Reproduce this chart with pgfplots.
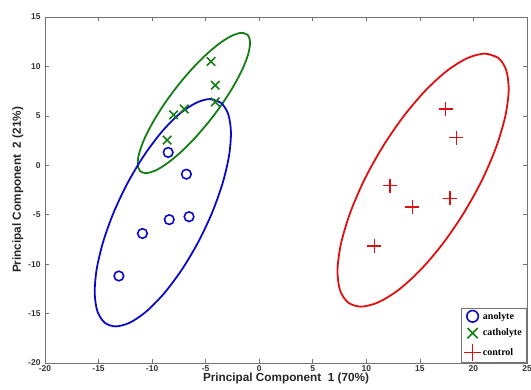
\documentclass[border=0pt]{standalone}
\usepackage{pgfplots}
\pgfplotsset{compat=1.18}
\usepackage{fontspec}
\setmainfont{Liberation Sans}
\newfontfamily\serifbold{Liberation Serif}
\definecolor{cblue}{RGB}{10,10,200}
\definecolor{cgreen}{RGB}{20,125,20}
\definecolor{cred}{RGB}{225,15,15}
\begin{document}
\begin{tikzpicture}
\begin{axis}[
  scale only axis, width=482bp, height=346bp,
  xmin=-20, xmax=25, ymin=-20, ymax=15,
  xtick={-20,-15,...,25}, ytick={-20,-15,...,15},
  tick align=inside, major tick length=4bp,
  axis line style={black!55, line width=0.8pt},
  every tick/.style={black!55, line width=0.6pt},
  /pgf/number format/assume math mode=true,
  tick label style={font=\fontsize{8.5}{9}\selectfont\bfseries, text=black!80},
  xticklabel style={yshift=1bp},
  yticklabel style={xshift=-1bp},
  xlabel={Principal Component\ \ 1 (70\%)},
  ylabel={Principal Component\ \ 2 (21\%)},
  label style={font=\fontsize{11.8}{13}\selectfont\bfseries, text=black!85},
  xlabel style={yshift=5bp},
  ylabel style={yshift=-2bp},
  legend style={at={(1,0)}, anchor=south east, draw=black!55, line width=0.6pt,
    font=\serifbold\fontsize{10}{12}\selectfont\bfseries, inner xsep=3pt, inner ysep=2pt,
    row sep=4.5bp, cells={anchor=west}},
  legend image code/.code={\draw[mark size=1.2\pgfplotmarksize] plot coordinates {(0.3cm,0cm)};},
  legend cell align=left,
]
% ellipses
\addplot[cgreen, line width=1.8pt, smooth, forget plot] coordinates {
(-1.6,13.4) (-1.05,13.16) (-0.85,12.45) (-1.01,11.32) (-1.51,9.85) (-2.33,8.14)
(-3.4,6.3) (-4.66,4.46) (-6.01,2.75) (-7.37,1.28) (-8.65,0.15) (-9.75,-0.56)
(-10.6,-0.8) (-11.15,-0.56) (-11.35,0.15) (-11.19,1.28) (-10.69,2.75) (-9.87,4.46)
(-8.8,6.3) (-7.54,8.14) (-6.19,9.85) (-4.83,11.32) (-3.55,12.45) (-2.45,13.16) (-1.6,13.4) (-1.05,13.16)};
\addplot[cblue, line width=1.8pt, smooth, forget plot] coordinates {
(-4.6,6.7) (-3.56,6.31) (-2.89,5.16) (-2.64,3.33) (-2.82,0.95) (-3.42,-1.82)
(-4.4,-4.8) (-5.70,-7.78) (-7.22,-10.55) (-8.86,-12.93) (-10.51,-14.76) (-12.06,-15.91)
(-13.4,-16.3) (-14.44,-15.91) (-15.11,-14.76) (-15.36,-12.93) (-15.18,-10.55) (-14.58,-7.78)
(-13.6,-4.8) (-12.3,-1.82) (-10.78,0.95) (-9.14,3.33) (-7.49,5.16) (-5.9,6.31) (-4.6,6.7) (-3.56,6.31)};
\addplot[cred, line width=1.8pt, smooth, forget plot] coordinates {
(21.1,11.3) (22.33,10.86) (23.07,9.59) (23.29,7.55) (22.96,4.9) (22.11,1.81)
(20.8,-1.5) (19.11,-4.81) (17.16,-7.9) (15.09,-10.55) (13.03,-12.59) (11.12,-13.86)
(9.5,-14.3) (8.27,-13.86) (7.53,-12.59) (7.31,-10.55) (7.64,-7.9) (8.49,-4.81)
(9.8,-1.5) (11.49,1.81) (13.44,4.9) (15.51,7.55) (17.57,9.59) (19.48,10.86) (21.1,11.3) (22.33,10.86)};
% points
\addplot[only marks, mark=o, mark size=4.8bp, cblue, line width=1.6pt] coordinates {
(-8.5,1.3) (-6.8,-0.9) (-10.9,-6.9) (-8.4,-5.5) (-6.55,-5.2) (-13.1,-11.2)};
\addlegendentry{anolyte}
\addplot[only marks, mark=x, mark size=6bp, cgreen, line width=1.6pt] coordinates {
(-4.5,10.5) (-4.1,8.1) (-4.1,6.4) (-8.0,5.1) (-7.0,5.7) (-8.6,2.55)};
\addlegendentry{catholyte}
\addplot[only marks, mark=+, mark size=7bp, cred, line width=1.6pt] coordinates {
(17.4,5.7) (18.4,2.8) (12.2,-2.05) (14.3,-4.25) (17.8,-3.35) (10.75,-8.15)};
\addlegendentry{control}
\end{axis}
\pgfresetboundingbox
\path[use as bounding box] ([shift={(-45bp,-27bp)}]current axis.south west) rectangle ([shift={(4bp,17bp)}]current axis.north east);
\end{tikzpicture}
\end{document}
